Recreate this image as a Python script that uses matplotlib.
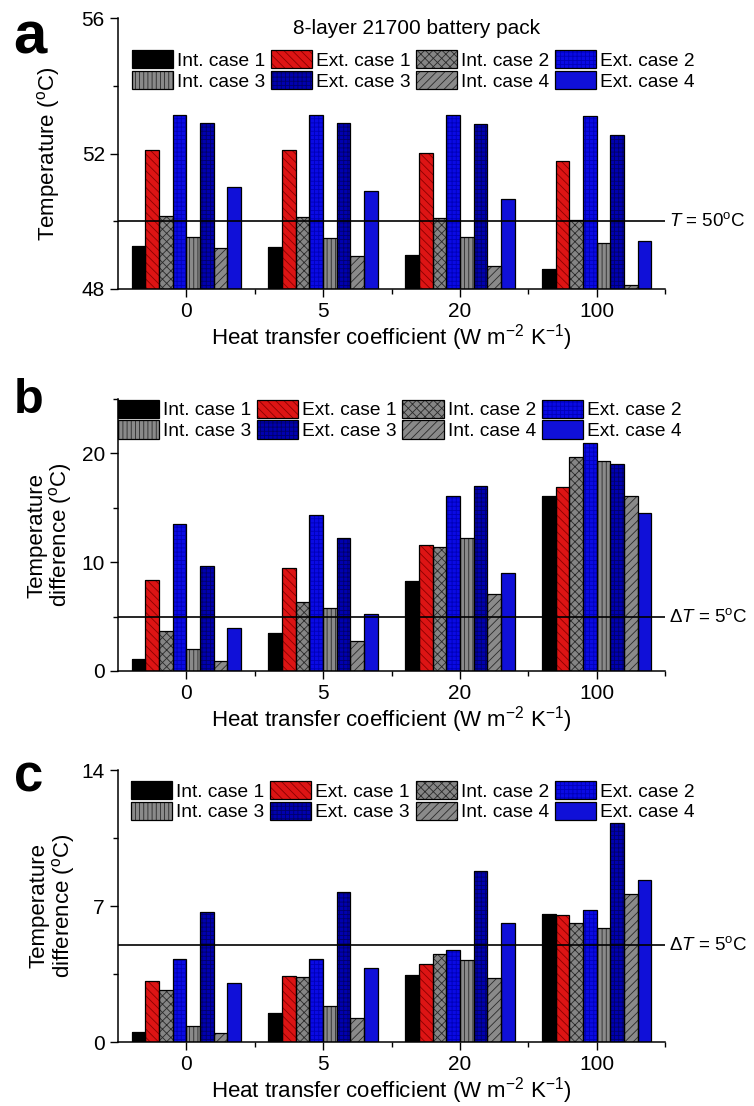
import numpy as np
import matplotlib
matplotlib.use("Agg")
import matplotlib.pyplot as plt
from matplotlib.patches import Patch
from matplotlib.transforms import blended_transform_factory

plt.rcParams["font.family"] = ["Liberation Sans", "DejaVu Sans"]
plt.rcParams["mathtext.fontset"] = "custom"
plt.rcParams["mathtext.rm"] = "Liberation Sans"
plt.rcParams["mathtext.it"] = "Liberation Sans:italic"
plt.rcParams["hatch.linewidth"] = 0.6

# %% Data
h_labels = ["0", "5", "20", "100"]
series = ["Int. case 1", "Ext. case 1", "Int. case 2", "Ext. case 2",
          "Int. case 3", "Ext. case 3", "Int. case 4", "Ext. case 4"]

# (a) max temperature (oC), one row per series, columns = h
temp_a = [
    [49.28, 49.23, 48.99, 48.59],
    [52.11, 52.09, 52.02, 51.78],
    [50.16, 50.14, 50.09, 50.04],
    [53.14, 53.14, 53.14, 53.12],
    [49.53, 49.51, 49.53, 49.35],
    [52.91, 52.90, 52.86, 52.55],
    [49.20, 48.98, 48.67, 48.12],
    [51.02, 50.90, 50.67, 49.42],
]
# (b) temperature difference (oC)
dT_b = [
    [1.13, 3.52, 8.26, 16.09],
    [8.32, 9.51, 11.59, 16.94],
    [3.67, 6.30, 11.38, 19.63],
    [13.52, 14.31, 16.09, 21.0],
    [1.99, 5.75, 12.26, 19.30],
    [9.63, 12.20, 17.03, 18.99],
    [0.92, 2.75, 7.09, 16.09],
    [3.94, 5.26, 9.05, 14.50],
]
# (c) temperature difference (oC)
dT_c = [
    [0.50, 1.50, 3.44, 6.59],
    [3.13, 3.42, 4.04, 6.54],
    [2.67, 3.34, 4.51, 6.12],
    [4.25, 4.25, 4.75, 6.81],
    [0.84, 1.86, 4.20, 5.87],
    [6.67, 7.72, 8.81, 11.28],
    [0.45, 1.22, 3.27, 7.64],
    [3.03, 3.82, 6.14, 8.34],
]

# face colour, hatch, hatch colour
styles = [
    ("#000000", None, None),
    ("#dd1414", "\\\\\\\\", "#8a0000"),
    ("#858585", "xxxx", "#2a2a2a"),
    ("#0a0ae4", "++++", "#0000b8"),
    ("#8a8a8a", "||||", "#2a2a2a"),
    ("#0000b0", "++++", "#00006a"),
    ("#8a8a8a", "////", "#2a2a2a"),
    ("#1010d8", None, None),
]

fig = plt.figure(figsize=(7.54, 11.06), dpi=100)
L, W = 118 / 754, 547 / 754
axes = [fig.add_axes([L, 1 - 289 / 1106, W, 271 / 1106]),
        fig.add_axes([L, 1 - 671 / 1106, W, 272 / 1106]),
        fig.add_axes([L, 1 - 1042 / 1106, W, 272 / 1106])]

data = [temp_a, dT_b, dT_c]
ylims = [(48, 56), (0, 25), (0, 14)]
major = [[48, 52, 56], [0, 10, 20], [0, 7, 14]]
minor = [[50, 54], [5, 15, 25], [3.5, 10.5]]
ref = [50, 5, 5]
ref_txt = ["$T$ = 50$^{\\mathrm{o}}$C", "Δ$T$ = 5$^{\\mathrm{o}}$C",
           "Δ$T$ = 5$^{\\mathrm{o}}$C"]
ylabels = ["Temperature ($^{\\mathrm{o}}$C)",
           "Temperature\ndifference ($^{\\mathrm{o}}$C)",
           "Temperature\ndifference ($^{\\mathrm{o}}$C)"]
ylab_x = [-0.102, -0.08, -0.075]
leg_anchor = [(0.025, 0.882), (0.0, 0.998), (0.024, 0.96)]

x = np.arange(len(h_labels))
bw = 0.1
for k, ax in enumerate(axes):
    vals = data[k]
    base = ylims[k][0]
    handles = []
    for i, (fc, hatch, hc) in enumerate(styles):
        pos = x + (i - 3.5) * bw
        h = np.array(vals[i]) - base
        ax.bar(pos, h, bw, bottom=base, color=fc, hatch=hatch,
               edgecolor=hc if hc else fc, linewidth=0, zorder=2)
        ax.bar(pos, h, bw, bottom=base, facecolor="none",
               edgecolor="black", linewidth=0.9, zorder=3)
        handles.append((Patch(facecolor=fc, hatch=hatch,
                              edgecolor=hc if hc else fc, linewidth=0),
                        Patch(facecolor="none", edgecolor="black",
                              linewidth=0.9)))
    ax.axhline(ref[k], color="black", lw=1.2, zorder=4)
    tr = blended_transform_factory(ax.transAxes, ax.transData)
    ax.text(1.007, ref[k], ref_txt[k], transform=tr, va="center",
            ha="left", fontsize=13.5, clip_on=False)

    ax.set_xlim(-0.5, 3.5)
    ax.set_ylim(*ylims[k])
    ax.set_xticks(x)
    ax.set_xticklabels(h_labels)
    ax.set_xticks([0.5, 1.5, 2.5, 3.5], minor=True)
    ax.set_yticks(major[k])
    ax.set_yticks(minor[k], minor=True)
    ax.tick_params(which="major", length=6, width=1, labelsize=15,
                   direction="out")
    ax.tick_params(which="minor", length=3.5, width=1, direction="out")
    for s in ["top", "right"]:
        ax.spines[s].set_visible(False)
    for s in ["left", "bottom"]:
        ax.spines[s].set_linewidth(1.1)
    ax.set_xlabel("Heat transfer coefficient (W m$^{-2}$ K$^{-1}$)",
                  fontsize=16, labelpad=1)
    ax.set_ylabel(ylabels[k], fontsize=16, linespacing=1.0)
    ax.yaxis.set_label_coords(ylab_x[k], 0.5)

    # legend ordered column-wise so rows read Int1, Ext1, Int2, Ext2 / ...
    order = [0, 4, 1, 5, 2, 6, 3, 7]
    ax.legend([handles[j] for j in order], [series[j] for j in order],
              ncol=4, loc="upper left", bbox_to_anchor=leg_anchor[k],
              frameon=False, fontsize=13.8, handlelength=2.15,
              handleheight=1.1, handletextpad=0.2, columnspacing=0.3,
              labelspacing=0.06, borderpad=0, borderaxespad=0)

axes[0].text(0.545, 0.963, "8-layer 21700 battery pack", transform=axes[0].transAxes,
             ha="center", va="center", fontsize=15)

fig.text(13 / 754, 1 - 53 / 1106, "a", fontsize=43, fontweight="bold",
         va="baseline")
fig.text(14 / 754, 1 - 413 / 1106, "b", fontsize=35, fontweight="bold",
         va="baseline")
fig.text(14 / 754, 1 - 792 / 1106, "c", fontsize=38, fontweight="bold",
         va="baseline")

fig.savefig("out.png", dpi=100)
